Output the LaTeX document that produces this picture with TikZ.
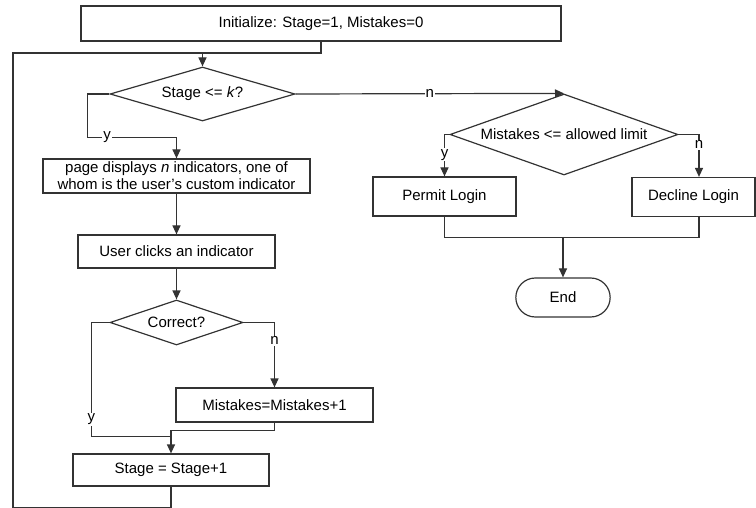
\documentclass[tikz,border=0pt]{standalone}
\usepackage{fontspec}
\setmainfont{Liberation Sans}
\usetikzlibrary{arrows.meta}
\usetikzlibrary{shapes.geometric}
\usetikzlibrary{shapes.misc}
\tikzset{
  every picture/.style={font={\fontsize{15}{17}\selectfont}, >={Triangle[length=9pt,width=8pt]}}}

\begin{document}
\begin{tikzpicture}[x=1pt, y=-1pt, line width=1.2pt, draw=black!80,
    process/.style={draw, rectangle, inner sep=1pt, minimum height=34pt},
    decision/.style={draw, diamond, aspect=3, inner sep=0pt},
    terminal/.style={draw, rounded rectangle, minimum width=101pt, minimum height=39pt},
    lbl/.style={fill=white, inner sep=1pt}]

    \useasboundingbox (0,0) rectangle (756,508);

    \node[process, minimum width=480pt, minimum height=35pt] (init) at (321,23.5)
      {Initialize: Stage=1, Mistakes=0};
    \node[decision, minimum width=185pt, minimum height=54pt] (stg) at (202.5,94)
      {Stage <= \textit{k}?};
    \node[process, minimum width=267pt, align=center] (page) at (176.5,176)
      {page displays \textit{n} indicators, one of\\whom is the user's custom indicator};
    \node[process, minimum width=197pt, minimum height=33pt] (click) at (176.5,251.5)
      {User clicks an indicator};
    \node[decision, minimum width=133pt, minimum height=45pt] (corr) at (176.5,322.5)
      {Correct?};
    \node[process, minimum width=197pt] (mist) at (274.5,405)
      {Mistakes=Mistakes+1};
    \node[process, minimum width=196pt, minimum height=32pt] (incr) at (171,470)
      {Stage = Stage+1};

    \node[decision, minimum width=228pt, minimum height=81pt] (lim) at (564,134.5)
      {Mistakes <= allowed limit};
    \node[process, minimum width=143pt, minimum height=39pt] (permit) at (444.5,196.5)
      {Permit Login};
    \node[process, minimum width=123pt, minimum height=39pt] (decline) at (693.5,197)
      {Decline Login};
    \node[terminal] (end) at (563,297.5) {End};

    \coordinate (top) at (202.5,53);
    \coordinate (loop) at (13,53);

    % main loop
    \draw[->] (init.south) |- (top) -- (stg.north);
    \draw[->] (stg.west) -- ++(-22,0) |- node[lbl, pos=0.61] {y} ([yshift=21pt]page.north) -- (page.north);
    \draw[->] (page.south) -- (click.north);
    \draw[->] (click.south) -- (corr.north);
    \draw[->] (corr.east) -| node[lbl, pos=0.64] {n} (mist.north);
    \draw (corr.west) -- ++(-18,0) |- node[lbl, pos=0.425] {y} ([yshift=17pt]incr.north);
    \draw[->] (mist.south) -- ++(0,8) -| (incr.north);
    \draw (incr.south) -- ++(0,21) -| (loop) -- (top);

    % exit
    \draw[->] (stg.east) -- node[lbl] {n} (lim.north);
    \draw[->] (lim.west) -| node[lbl, pos=0.74] {y} (permit.north);
    \draw[->] (lim.east) -| node[lbl, pos=0.62] {n} ([xshift=5.5pt]decline.north);
    \draw (permit.south) -- ++(0,21) -| ([xshift=5.5pt]decline.south);
    \draw[->] ([yshift=40.5pt]end.north) -- (end.north);
  \end{tikzpicture}
\end{document}
